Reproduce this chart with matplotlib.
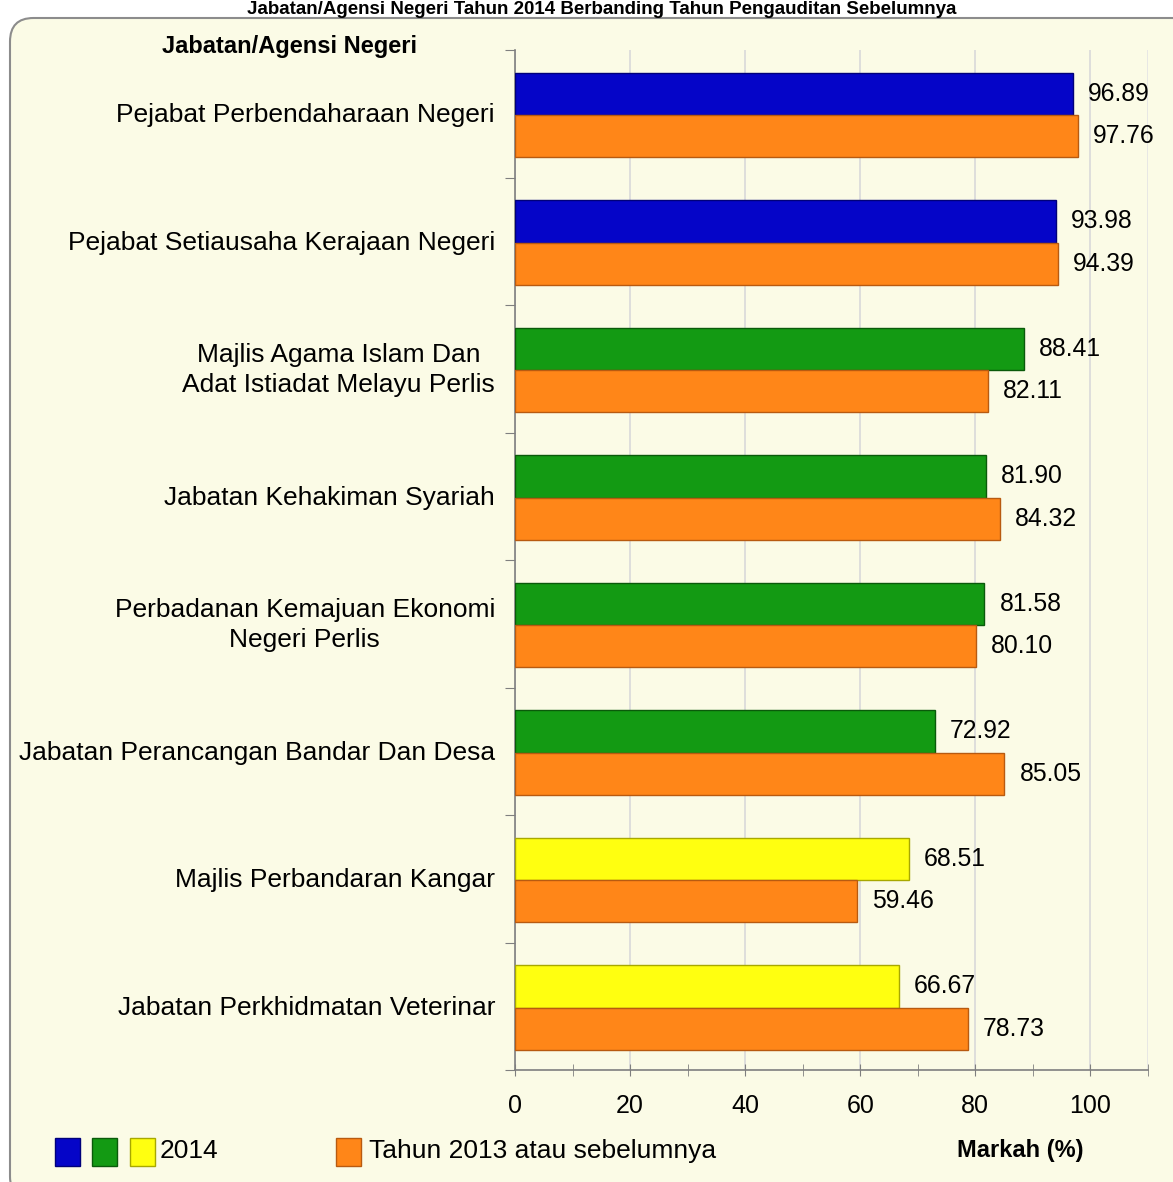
import matplotlib
matplotlib.use("Agg")
import matplotlib.pyplot as plt
from matplotlib.patches import FancyBboxPatch, Rectangle
from matplotlib.ticker import FixedLocator

plt.rcParams['font.family'] = ['Liberation Sans', 'DejaVu Sans']

categories = [
    "Pejabat Perbendaharaan Negeri",
    "Pejabat Setiausaha Kerajaan Negeri",
    "Majlis Agama Islam Dan\nAdat Istiadat Melayu Perlis",
    "Jabatan Kehakiman Syariah",
    "Perbadanan Kemajuan Ekonomi\nNegeri Perlis",
    "Jabatan Perancangan Bandar Dan Desa",
    "Majlis Perbandaran Kangar",
    "Jabatan Perkhidmatan Veterinar",
]
values_2014 = [96.89, 93.98, 88.41, 81.90, 81.58, 72.92, 68.51, 66.67]
values_2013 = [97.76, 94.39, 82.11, 84.32, 80.10, 85.05, 59.46, 78.73]
xtick_values = [0, 20, 40, 60, 80, 100]
colors_2014 = ["#0505C8", "#0505C8", "#139A13", "#139A13", "#139A13", "#139A13", "#FFFF10", "#FFFF10"]
color_2013 = "#FF8618"
edge_2014 = ["#00007A", "#00007A", "#0A5A0A", "#0A5A0A", "#0A5A0A", "#0A5A0A", "#A8A800", "#A8A800"]
edge_2013 = "#B85A10"

title = "Jabatan/Agensi Negeri Tahun 2014 Berbanding Tahun Pengauditan Sebelumnya"

W, H = 1173, 1182
fig = plt.figure(figsize=(W / 100, H / 100), dpi=100)
fig.patch.set_facecolor("white")

# background frame
frame = FancyBboxPatch((10 / W, 1 - 1200 / H), 1200 / W, (1200 - 18) / H,
                       boxstyle="round,pad=0,rounding_size=0.02",
                       transform=fig.transFigure, facecolor="#FBFBE6",
                       edgecolor="#8C8C8C", linewidth=1.5, zorder=0)
fig.add_artist(frame)

ax = fig.add_axes([515 / W, 1 - 1070 / H, (1148 - 515) / W, (1070 - 50) / H])
ax.set_facecolor("none")
ax.set_zorder(2)

n = len(categories)
bh = 0.33
centers = [i + 0.51 for i in range(n)]
y14 = [c - bh / 2 for c in centers]
y13 = [c + bh / 2 for c in centers]
ax.barh(y14, values_2014, height=bh, color=colors_2014, edgecolor=edge_2014, linewidth=1.0, zorder=3)
ax.barh(y13, values_2013, height=bh, color=color_2013, edgecolor=edge_2013, linewidth=1.0, zorder=3)

for y, v in zip(y14, values_2014):
    ax.annotate(f"{v:.2f}", xy=(v, y), xytext=(15, 0), textcoords="offset pixels",
                ha="left", va="center", fontsize=17.8, color="black")
for y, v in zip(y13, values_2013):
    ax.annotate(f"{v:.2f}", xy=(v, y), xytext=(15, 0), textcoords="offset pixels",
                ha="left", va="center", fontsize=17.8, color="black")

for c, lab in zip(centers, categories):
    ax.annotate(lab, xy=(0, c), xycoords=("axes fraction", "data"), xytext=(-20, 0),
                textcoords="offset pixels", ha="right", va="center",
                multialignment="center", fontsize=19, color="black", linespacing=1.28)

ax.set_xlim(0, 110)
ax.set_ylim(n, 0)
ax.xaxis.set_major_locator(FixedLocator(xtick_values))
ax.xaxis.set_minor_locator(FixedLocator([10, 30, 50, 70, 90, 110]))
ax.set_xticklabels([str(v) for v in xtick_values])
ax.tick_params(axis="x", which="both", direction="inout", length=9, color="#7F7F7F",
               labelsize=18, pad=13)
ax.yaxis.set_major_locator(FixedLocator(list(range(n + 1))))
ax.set_yticklabels([])
ax.tick_params(axis="y", which="major", direction="out", length=7, color="#7F7F7F")
ax.grid(axis="x", which="major", color="#D9D9D9", linewidth=1.2, zorder=0)
ax.axvline(110, color="#E4E4E4", linewidth=1.2, zorder=0)
ax.set_axisbelow(True)
for s in ["top", "right"]:
    ax.spines[s].set_visible(False)
for s in ["left", "bottom"]:
    ax.spines[s].set_color("#7F7F7F")
    ax.spines[s].set_linewidth(1.2)

# texts
fig.text(602 / W, 1 - 1 / H, title, ha="center", va="top", fontsize=13.5, fontweight="bold")
fig.text(289 / W, 1 - 46 / H, "Jabatan/Agensi Negeri", ha="center", va="center",
         fontsize=17, fontweight="bold")
fig.text(1020 / W, 1 - 1151 / H, "Markah (%)", ha="center", va="center",
         fontsize=17, fontweight="bold")

# legend
def sq(x0, color, edge):
    r = Rectangle((x0 / W, 1 - 1166 / H), 25 / W, 28 / H, transform=fig.transFigure,
                  facecolor=color, edgecolor=edge, linewidth=1.0, zorder=5)
    fig.add_artist(r)

sq(55, "#0505C8", "#00007A")
sq(92, "#139A13", "#0A5A0A")
sq(130, "#FFFF10", "#A8A800")
fig.text(160 / W, 1 - 1151 / H, "2014", ha="left", va="center", fontsize=19)
sq(336, color_2013, edge_2013)
fig.text(369 / W, 1 - 1151 / H, "Tahun 2013 atau sebelumnya", ha="left", va="center", fontsize=19)

fig.savefig("out.png", dpi=100, facecolor=fig.get_facecolor())
